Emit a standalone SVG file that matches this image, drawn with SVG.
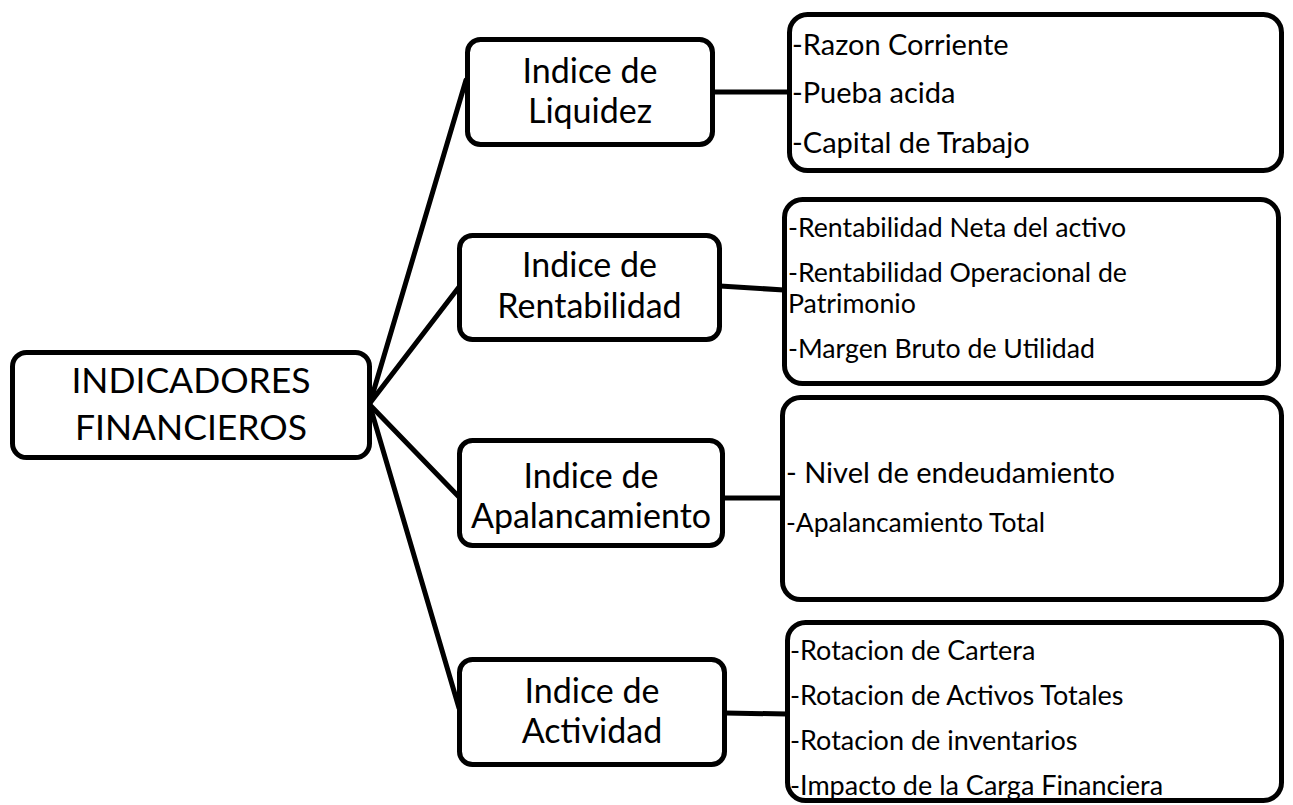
<svg xmlns="http://www.w3.org/2000/svg" width="1293" height="805" viewBox="0 0 1293 805">
<style>
.box{fill:#fff;stroke:#000;stroke-width:5}
.con line{stroke:#000;stroke-width:5;stroke-linecap:round}
text{font-family:Lato,"Open Sans","Liberation Sans",sans-serif;fill:#000}
.root{font-size:35.5px;text-anchor:middle}
.mid{font-size:34px;text-anchor:middle}
.l1{font-size:29px}
.l2{font-size:26.7px}
.l3a{font-size:29px}
.l3b{font-size:26.5px}
.l4{font-size:27px}
</style>
<rect width="1293" height="805" fill="#fff"/>
<g id="connectors" class="con">
<line x1="370" y1="403" x2="466" y2="80"/>
<line x1="370" y1="403" x2="459" y2="287"/>
<line x1="370" y1="405" x2="459" y2="497"/>
<line x1="370" y1="406" x2="459" y2="708"/>
<line x1="713" y1="92" x2="789" y2="92"/>
<line x1="720" y1="286" x2="784" y2="290"/>
<line x1="723" y1="498" x2="782" y2="498"/>
<line x1="725" y1="713" x2="787" y2="714"/>
</g>
<g id="root">
<rect class="box" x="12.5" y="352.5" width="357" height="105" rx="14"/>
<text class="root" x="191" y="393">INDICADORES</text>
<text class="root" x="191" y="440">FINANCIEROS</text>
</g>
<g id="liquidez">
<rect class="box" x="467.5" y="39.5" width="245" height="105" rx="13"/>
<text class="mid" x="590" y="83">Indice de</text>
<text class="mid" x="590" y="123">Liquidez</text>
</g>
<g id="rentabilidad">
<rect class="box" x="459.5" y="235.5" width="260" height="104" rx="13"/>
<text class="mid" x="589.5" y="277">Indice de</text>
<text class="mid" x="589.5" y="318">Rentabilidad</text>
</g>
<g id="apalancamiento">
<rect class="box" x="459.5" y="440.5" width="263" height="105" rx="13"/>
<text class="mid" x="591" y="488">Indice de</text>
<text class="mid" x="591" y="528">Apalancamiento</text>
</g>
<g id="actividad">
<rect class="box" x="459.5" y="659.5" width="265" height="105" rx="13"/>
<text class="mid" x="592" y="703">Indice de</text>
<text class="mid" x="592" y="743">Actividad</text>
</g>
<g id="list-liquidez">
<rect class="box" x="789.5" y="14.5" width="492" height="156" rx="18"/>
<text class="l1" x="792" y="55">-Razon Corriente</text>
<text class="l1" x="792" y="103">-Pueba acida</text>
<text class="l1" x="792" y="153">-Capital de Trabajo</text>
</g>
<g id="list-rentabilidad">
<rect class="box" x="784.5" y="199.5" width="494" height="184" rx="18"/>
<text class="l2" x="788" y="237">-Rentabilidad Neta del activo</text>
<text class="l2" x="788" y="282">-Rentabilidad Operacional de</text>
<text class="l2" x="788" y="313">Patrimonio</text>
<text class="l2" x="788" y="358">-Margen Bruto de Utilidad</text>
</g>
<g id="list-apalancamiento">
<rect class="box" x="782.5" y="397.5" width="499" height="202" rx="18"/>
<text class="l3a" x="786" y="483">- Nivel de endeudamiento</text>
<text class="l3b" x="786" y="532">-Apalancamiento Total</text>
</g>
<g id="list-actividad">
<rect class="box" x="787.5" y="622.5" width="494" height="178" rx="18"/>
<text class="l4" x="790" y="660">-Rotacion de Cartera</text>
<text class="l4" x="790" y="705">-Rotacion de Activos Totales</text>
<text class="l4" x="790" y="750">-Rotacion de inventarios</text>
<text class="l4" x="790" y="795">-Impacto de la Carga Financiera</text>
</g>
</svg>
